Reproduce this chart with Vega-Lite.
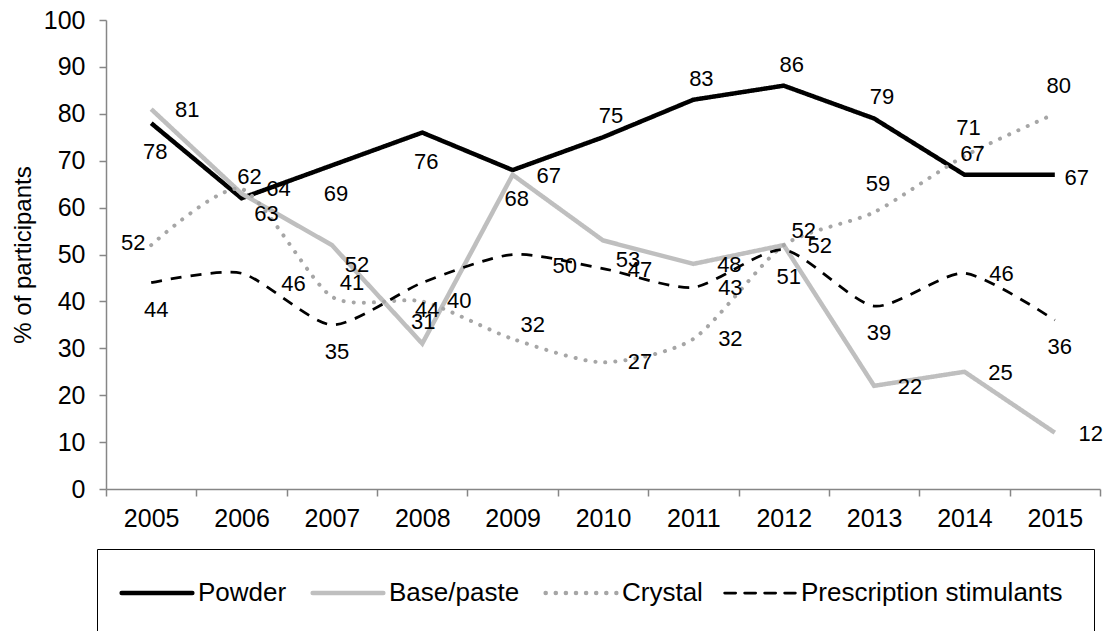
{
  "$schema": "https://vega.github.io/schema/vega-lite/v6.json",
  "width": 994,
  "height": 469,
  "autosize": {"type": "none"},
  "padding": {"left": 106, "top": 20, "right": 7, "bottom": 142},
  "background": "white",
  "config": {
    "view": {"stroke": null},
    "font": "Liberation Sans",
    "axis": {
      "labelFont": "Liberation Sans",
      "titleFont": "Liberation Sans",
      "labelColor": "black",
      "titleColor": "black",
      "domainColor": "#868686",
      "tickColor": "#868686",
      "domainWidth": 1.5,
      "tickWidth": 1.5,
      "grid": false
    }
  },
  "data": {
    "values": [
      {"year": "2005", "series": "Powder", "value": 78},
      {"year": "2006", "series": "Powder", "value": 62},
      {"year": "2007", "series": "Powder", "value": 69},
      {"year": "2008", "series": "Powder", "value": 76},
      {"year": "2009", "series": "Powder", "value": 68},
      {"year": "2010", "series": "Powder", "value": 75},
      {"year": "2011", "series": "Powder", "value": 83},
      {"year": "2012", "series": "Powder", "value": 86},
      {"year": "2013", "series": "Powder", "value": 79},
      {"year": "2014", "series": "Powder", "value": 67},
      {"year": "2015", "series": "Powder", "value": 67},
      {"year": "2005", "series": "Base/paste", "value": 81},
      {"year": "2006", "series": "Base/paste", "value": 63},
      {"year": "2007", "series": "Base/paste", "value": 52},
      {"year": "2008", "series": "Base/paste", "value": 31},
      {"year": "2009", "series": "Base/paste", "value": 67},
      {"year": "2010", "series": "Base/paste", "value": 53},
      {"year": "2011", "series": "Base/paste", "value": 48},
      {"year": "2012", "series": "Base/paste", "value": 52},
      {"year": "2013", "series": "Base/paste", "value": 22},
      {"year": "2014", "series": "Base/paste", "value": 25},
      {"year": "2015", "series": "Base/paste", "value": 12},
      {"year": "2005", "series": "Crystal", "value": 52},
      {"year": "2006", "series": "Crystal", "value": 64},
      {"year": "2007", "series": "Crystal", "value": 41},
      {"year": "2008", "series": "Crystal", "value": 40},
      {"year": "2009", "series": "Crystal", "value": 32},
      {"year": "2010", "series": "Crystal", "value": 27},
      {"year": "2011", "series": "Crystal", "value": 32},
      {"year": "2012", "series": "Crystal", "value": 52},
      {"year": "2013", "series": "Crystal", "value": 59},
      {"year": "2014", "series": "Crystal", "value": 71},
      {"year": "2015", "series": "Crystal", "value": 80},
      {"year": "2005", "series": "Prescription stimulants", "value": 44},
      {"year": "2006", "series": "Prescription stimulants", "value": 46},
      {"year": "2007", "series": "Prescription stimulants", "value": 35},
      {"year": "2008", "series": "Prescription stimulants", "value": 44},
      {"year": "2009", "series": "Prescription stimulants", "value": 50},
      {"year": "2010", "series": "Prescription stimulants", "value": 47},
      {"year": "2011", "series": "Prescription stimulants", "value": 43},
      {"year": "2012", "series": "Prescription stimulants", "value": 51},
      {"year": "2013", "series": "Prescription stimulants", "value": 39},
      {"year": "2014", "series": "Prescription stimulants", "value": 46},
      {"year": "2015", "series": "Prescription stimulants", "value": 36}
    ]
  },
  "encoding": {
    "x": {
      "field": "year",
      "type": "ordinal",
      "bandPosition": 0.5,
      "scale": {"type": "band", "paddingInner": 0, "paddingOuter": 0},
      "axis": {
        "title": null,
        "labelAngle": 0,
        "labelFontSize": 25,
        "labelPadding": 10,
        "tickSize": 7,
        "tickBand": "extent"
      }
    },
    "y": {
      "field": "value",
      "type": "quantitative",
      "scale": {"domain": [0, 100], "nice": false},
      "axis": {
        "title": "% of participants",
        "titleFontSize": 24,
        "titleFontWeight": "normal",
        "titlePadding": 8,
        "values": [0, 10, 20, 30, 40, 50, 60, 70, 80, 90, 100],
        "labelFontSize": 25,
        "labelPadding": 14,
        "tickSize": 7
      }
    }
  },
  "layer": [
    {
      "transform": [{"filter": {"field": "series", "oneOf": ["Powder", "Base/paste"]}}],
      "mark": {"type": "line", "strokeWidth": 4.5, "strokeJoin": "miter", "strokeCap": "butt"},
      "encoding": {
        "color": {
          "field": "series",
          "type": "nominal",
          "scale": {"domain": ["Powder", "Base/paste", "Crystal", "Prescription stimulants"], "range": ["#000000", "#bfbfbf", "#a6a6a6", "#000000"]},
          "legend": {
            "orient": "none", "legendX": -9, "legendY": 529, "direction": "horizontal", "title": null,
            "labelFontSize": 26, "labelFont": "Liberation Sans", "labelColor": "black", "labelLimit": 400,
            "symbolType": "stroke", "symbolSize": 5000, "strokeColor": "black", "padding": 31,
            "columnPadding": 16, "labelOffset": 28, "symbolOffset": 16,
            "encode": {"symbols": {"update": {"strokeCap": {"value": "round"}, "strokeWidth": {"signal": "datum.value === 'Prescription stimulants' ? 2.75 : 4.5"}}}}
          }
        },
        "strokeDash": {
          "field": "series",
          "type": "nominal",
          "scale": {"domain": ["Powder", "Base/paste", "Crystal", "Prescription stimulants"], "range": [[1, 0], [1, 0], [0.1, 10], [11, 9]]},
          "legend": {
            "orient": "none", "legendX": -9, "legendY": 529, "direction": "horizontal", "title": null,
            "labelFontSize": 26, "labelFont": "Liberation Sans", "labelColor": "black", "labelLimit": 400,
            "symbolType": "stroke", "symbolSize": 5000, "strokeColor": "black", "padding": 31,
            "columnPadding": 16, "labelOffset": 28, "symbolOffset": 16,
            "encode": {"symbols": {"update": {"strokeCap": {"value": "round"}, "strokeWidth": {"signal": "datum.value === 'Prescription stimulants' ? 2.75 : 4.5"}}}}
          }
        }
      }
    },
    {
      "transform": [{"filter": {"field": "series", "equal": "Crystal"}}],
      "mark": {"type": "line", "strokeWidth": 4, "strokeCap": "round", "interpolate": "cardinal", "tension": 0.3},
      "encoding": {
        "color": {"field": "series", "type": "nominal", "scale": {"domain": ["Powder", "Base/paste", "Crystal", "Prescription stimulants"], "range": ["#000000", "#bfbfbf", "#a6a6a6", "#000000"]}},
        "strokeDash": {"field": "series", "type": "nominal", "scale": {"domain": ["Powder", "Base/paste", "Crystal", "Prescription stimulants"], "range": [[1, 0], [1, 0], [0.1, 10], [11, 9]]}}
      }
    },
    {
      "transform": [{"filter": {"field": "series", "equal": "Prescription stimulants"}}],
      "mark": {"type": "line", "strokeWidth": 2.75, "strokeCap": "butt", "interpolate": "cardinal", "tension": 0.3},
      "encoding": {
        "color": {"field": "series", "type": "nominal", "scale": {"domain": ["Powder", "Base/paste", "Crystal", "Prescription stimulants"], "range": ["#000000", "#bfbfbf", "#a6a6a6", "#000000"]}},
        "strokeDash": {"field": "series", "type": "nominal", "scale": {"domain": ["Powder", "Base/paste", "Crystal", "Prescription stimulants"], "range": [[1, 0], [1, 0], [0.1, 10], [11, 9]]}}
      }
    },
    {
      "transform": [{"filter": {"and": [{"field": "series", "equal": "Powder"}, {"field": "year", "oneOf": ["2005", "2007", "2008", "2009"]}]}}],
      "mark": {"type": "text", "dx": 4, "dy": 29, "fontSize": 22, "font": "Liberation Sans", "color": "black"},
      "encoding": {"text": {"field": "value", "type": "quantitative"}}
    },
    {
      "transform": [{"filter": {"and": [{"field": "series", "equal": "Powder"}, {"field": "year", "oneOf": ["2006", "2010", "2011", "2012", "2013", "2014"]}]}}],
      "mark": {"type": "text", "dx": 8, "dy": -21, "fontSize": 22, "font": "Liberation Sans", "color": "black"},
      "encoding": {"text": {"field": "value", "type": "quantitative"}}
    },
    {
      "transform": [{"filter": {"and": [{"field": "series", "equal": "Powder"}, {"field": "year", "oneOf": ["2015"]}]}}],
      "mark": {"type": "text", "dx": 22, "dy": 3, "fontSize": 22, "font": "Liberation Sans", "color": "black"},
      "encoding": {"text": {"field": "value", "type": "quantitative"}}
    },
    {
      "transform": [{"filter": {"and": [{"field": "series", "equal": "Base/paste"}, {"field": "year", "oneOf": ["2005", "2009", "2011", "2012", "2013", "2014", "2015"]}]}}],
      "mark": {"type": "text", "dx": 36, "dy": 1, "fontSize": 22, "font": "Liberation Sans", "color": "black"},
      "encoding": {"text": {"field": "value", "type": "quantitative"}}
    },
    {
      "transform": [{"filter": {"and": [{"field": "series", "equal": "Base/paste"}, {"field": "year", "oneOf": ["2006", "2007", "2010"]}]}}],
      "mark": {"type": "text", "dx": 25, "dy": 20, "fontSize": 22, "font": "Liberation Sans", "color": "black"},
      "encoding": {"text": {"field": "value", "type": "quantitative"}}
    },
    {
      "transform": [{"filter": {"and": [{"field": "series", "equal": "Base/paste"}, {"field": "year", "oneOf": ["2008"]}]}}],
      "mark": {"type": "text", "dx": 1, "dy": -22, "fontSize": 22, "font": "Liberation Sans", "color": "black"},
      "encoding": {"text": {"field": "value", "type": "quantitative"}}
    },
    {
      "transform": [{"filter": {"and": [{"field": "series", "equal": "Crystal"}, {"field": "year", "oneOf": ["2006", "2008", "2010", "2011"]}]}}],
      "mark": {"type": "text", "dx": 37, "dy": 0, "fontSize": 22, "font": "Liberation Sans", "color": "black"},
      "encoding": {"text": {"field": "value", "type": "quantitative"}}
    },
    {
      "transform": [{"filter": {"and": [{"field": "series", "equal": "Crystal"}, {"field": "year", "oneOf": ["2007", "2009", "2012"]}]}}],
      "mark": {"type": "text", "dx": 20, "dy": -14, "fontSize": 22, "font": "Liberation Sans", "color": "black"},
      "encoding": {"text": {"field": "value", "type": "quantitative"}}
    },
    {
      "transform": [{"filter": {"and": [{"field": "series", "equal": "Crystal"}, {"field": "year", "oneOf": ["2013", "2014", "2015"]}]}}],
      "mark": {"type": "text", "dx": 4, "dy": -28, "fontSize": 22, "font": "Liberation Sans", "color": "black"},
      "encoding": {"text": {"field": "value", "type": "quantitative"}}
    },
    {
      "transform": [{"filter": {"and": [{"field": "series", "equal": "Crystal"}, {"field": "year", "oneOf": ["2005"]}]}}],
      "mark": {"type": "text", "dx": -18, "dy": -2, "fontSize": 22, "font": "Liberation Sans", "color": "black"},
      "encoding": {"text": {"field": "value", "type": "quantitative"}}
    },
    {
      "transform": [{"filter": {"and": [{"field": "series", "equal": "Prescription stimulants"}, {"field": "year", "oneOf": ["2010", "2011", "2014"]}]}}],
      "mark": {"type": "text", "dx": 37, "dy": 1, "fontSize": 22, "font": "Liberation Sans", "color": "black"},
      "encoding": {"text": {"field": "value", "type": "quantitative"}}
    },
    {
      "transform": [{"filter": {"and": [{"field": "series", "equal": "Prescription stimulants"}, {"field": "year", "oneOf": ["2006", "2009"]}]}}],
      "mark": {"type": "text", "dx": 52, "dy": 11, "fontSize": 22, "font": "Liberation Sans", "color": "black"},
      "encoding": {"text": {"field": "value", "type": "quantitative"}}
    },
    {
      "transform": [{"filter": {"and": [{"field": "series", "equal": "Prescription stimulants"}, {"field": "year", "oneOf": ["2005", "2007", "2008", "2012", "2013", "2015"]}]}}],
      "mark": {"type": "text", "dx": 5, "dy": 27, "fontSize": 22, "font": "Liberation Sans", "color": "black"},
      "encoding": {"text": {"field": "value", "type": "quantitative"}}
    }
  ]
}
